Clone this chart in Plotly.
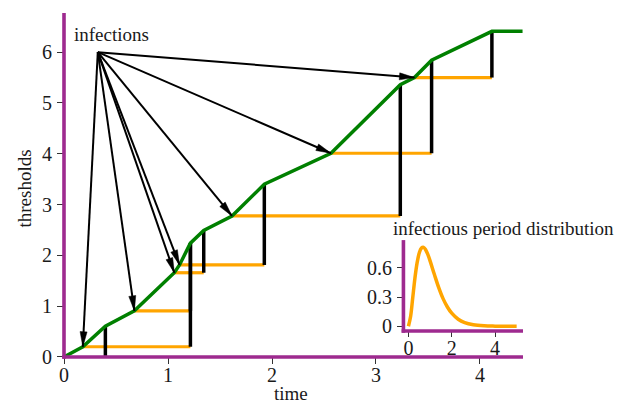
import plotly.graph_objects as go
import numpy as np

# ---------------- data ----------------
# cumulative infection pressure (green line)
pressure_time = [0, 0.18, 0.397, 0.676, 1.06, 1.11, 1.215, 1.343, 1.615, 1.926,
                 2.567, 3.234, 3.37, 3.535, 4.115, 4.41]
pressure_value = [0, 0.2, 0.605, 0.907, 1.657, 1.81, 2.24, 2.49, 2.775, 3.40,
                  4.01, 5.36, 5.50, 5.84, 6.41, 6.41]

# infections: time of infection, threshold reached, time of recovery
infection_time = [0.18, 0.676, 1.06, 1.11, 1.615, 2.567, 3.37]
threshold = [0.2, 0.907, 1.657, 1.81, 2.775, 4.01, 5.50]
recovery_time = [1.215, 1.215, 1.343, 1.926, 3.234, 3.535, 4.115]
recovery_pressure = [2.24, 2.24, 2.49, 3.40, 5.36, 5.84, 6.41]

# initial infective
initial_threshold = 0.0
initial_recovery_time = 0.397
initial_recovery_pressure = 0.605

# origin of the "infections" arrows
arrow_origin_time = 0.324
arrow_origin_threshold = 6.0

# infectious period distribution (inset)
period_x = [0, 0.1, 0.2, 0.3, 0.4, 0.5, 0.6, 0.7, 0.8, 0.9, 1.0, 1.2, 1.4, 1.6,
            1.8, 2.0, 2.3, 2.6, 3.0, 3.5, 4.0, 4.5, 5.0]
period_density = [0, 0.10, 0.296, 0.494, 0.651, 0.753, 0.803, 0.810, 0.784,
                  0.735, 0.672, 0.531, 0.397, 0.284, 0.198, 0.134, 0.072,
                  0.037, 0.015, 0.0045, 0.0013, 0.0004, 0.0001]

main_x_ticks = [0, 1, 2, 3, 4]
main_y_ticks = [0, 1, 2, 3, 4, 5, 6]
inset_x_ticks = [0, 2, 4]
inset_y_ticks = [0, 0.3, 0.6]

# ---------------- styles / layout constants ----------------
W, H = 617, 403
ML, MR, MT, MB = 63.5, 94, 13.3, 46.3
PLOT_W, PLOT_H = W - ML - MR, H - MT - MB
XR = [-0.001, -0.001 + PLOT_W / 104.07]
YR = [-0.002, -0.002 + PLOT_H / 50.7]
PURPLE = "#9e2a8f"
ORANGE = "#ffa500"
GREEN = "#008000"
FONT = "Liberation Serif"
FS = 19
TFS = 20
LW = 3.6

sx = PLOT_W / (XR[1] - XR[0])
sy = PLOT_H / (YR[1] - YR[0])


def px_to_paper(x_px, y_px):
    return ((x_px - ML) / PLOT_W, (MT + PLOT_H - y_px) / PLOT_H)


fig = go.Figure()

# orange infectious periods
ox, oy = [], []
for t0, thr, t1 in zip(infection_time, threshold, recovery_time):
    ox += [t0, t1, None]
    oy += [thr, thr, None]
fig.add_trace(go.Scatter(x=ox, y=oy, mode="lines",
                         line=dict(color=ORANGE, width=3.2), hoverinfo="skip"))

# black recovery jumps
bx = [initial_recovery_time, initial_recovery_time, None]
by = [initial_threshold, initial_recovery_pressure, None]
for thr, t1, p1 in zip(threshold, recovery_time, recovery_pressure):
    bx += [t1, t1, None]
    by += [thr, p1, None]
fig.add_trace(go.Scatter(x=bx, y=by, mode="lines",
                         line=dict(color="black", width=3.5), hoverinfo="skip"))

# green infection pressure
fig.add_trace(go.Scatter(x=pressure_time, y=pressure_value, mode="lines",
                         line=dict(color=GREEN, width=3.5), hoverinfo="skip"))

# arrows: shafts
ax_, ay_ = [], []
for t, thr in zip(infection_time, threshold):
    ax_ += [arrow_origin_time, t, None]
    ay_ += [arrow_origin_threshold, thr, None]
fig.add_trace(go.Scatter(x=ax_, y=ay_, mode="lines",
                         line=dict(color="black", width=2), hoverinfo="skip"))

# arrow heads (built in pixel space, mapped back through the axis scale)
HEAD_L, HEAD_W = 15, 7
hx, hy = [], []
for t, thr in zip(infection_time, threshold):
    dx = (t - arrow_origin_time) * sx
    dy = (thr - arrow_origin_threshold) * sy
    n = np.hypot(dx, dy)
    ux, uy = dx / n, dy / n
    bxp, byp = -ux * HEAD_L, -uy * HEAD_L
    px_, py_ = -uy * HEAD_W / 2, ux * HEAD_W / 2
    for qx, qy in [(0, 0), (bxp + px_, byp + py_), (bxp - px_, byp - py_), (0, 0)]:
        hx.append(t + qx / sx)
        hy.append(thr + qy / sy)
    hx.append(None)
    hy.append(None)
fig.add_trace(go.Scatter(x=hx, y=hy, mode="lines", fill="toself",
                         fillcolor="black", line=dict(color="black", width=0.5),
                         hoverinfo="skip"))

# inset curve
fig.add_trace(go.Scatter(x=period_x, y=period_density, mode="lines",
                         line=dict(color=ORANGE, width=3.5, shape="spline"),
                         xaxis="x2", yaxis="y2", hoverinfo="skip"))

# inset geometry (pixels -> paper)
ix0, iy0 = px_to_paper(403.3, 330.7)
ix1, iy1 = px_to_paper(523, 240)

axis_common = dict(showline=False, ticks="outside", tickwidth=1,
                   tickcolor="#333", showgrid=False, zeroline=False,
                   tickfont=dict(family=FONT, size=TFS, color="#1a1a1a"))

fig.update_layout(
    width=W, height=H,
    margin=dict(l=ML, r=MR, t=MT, b=MB, pad=0),
    paper_bgcolor="white", plot_bgcolor="white",
    showlegend=False,
    xaxis=dict(range=XR, tickvals=main_x_ticks, ticklen=6,
               ticklabelstandoff=-6, **axis_common),
    yaxis=dict(range=YR, tickvals=main_y_ticks, ticklen=6,
               ticklabelstandoff=1, **axis_common),
    xaxis2=dict(range=[-0.231, 5.293], tickvals=inset_x_ticks, domain=[ix0, ix1],
                anchor="y2", ticklen=5.5, ticklabelstandoff=-6, **axis_common),
    yaxis2=dict(range=[-0.048, 0.885], tickvals=inset_y_ticks, domain=[iy0, iy1],
                anchor="x2", ticklen=5.5, ticktext=["0", "0.3", "0.6"],
                ticklabelstandoff=1, **axis_common),
)

# spines
spine = dict(type="line", line=dict(color=PURPLE, width=LW), layer="above")
fig.add_shape(xref="paper", yref="paper", x0=0, x1=0, y0=-0.005, y1=1, **spine)
fig.add_shape(xref="paper", yref="paper", x0=-0.004, x1=1, y0=0, y1=0, **spine)
fig.add_shape(xref="x2 domain", yref="y2 domain", x0=0, x1=0, y0=-0.02, y1=1, **spine)
fig.add_shape(xref="x2 domain", yref="y2 domain", x0=-0.015, x1=1, y0=0, y1=0, **spine)

txt = dict(family=FONT, size=FS, color="#1a1a1a")
tx, ty = px_to_paper(291, 393)
lx, ly = px_to_paper(23.5, 188.5)
nx, ny = px_to_paper(503.3, 228)
fig.add_annotation(text="infections", x=0.075, y=6.357, xref="x", yref="y",
                   xanchor="left", yanchor="middle", showarrow=False, font=txt)
fig.add_annotation(text="infectious period distribution", x=nx, y=ny,
                   xref="paper", yref="paper", xanchor="center", yanchor="middle",
                   showarrow=False, font=txt)
fig.add_annotation(text="time", x=tx, y=ty, xref="paper", yref="paper",
                   xanchor="center", yanchor="middle", showarrow=False, font=txt)
fig.add_annotation(text="thresholds", x=lx, y=ly, xref="paper", yref="paper",
                   xanchor="center", yanchor="middle", textangle=-90,
                   showarrow=False, font=txt)

# the page body has a default margin; remove it so the figure fills the window
fig.write_html("out.html",
               config={"displayModeBar": False},
               post_script="document.body.style.margin='0';"
                           "document.body.style.overflow='hidden';")
